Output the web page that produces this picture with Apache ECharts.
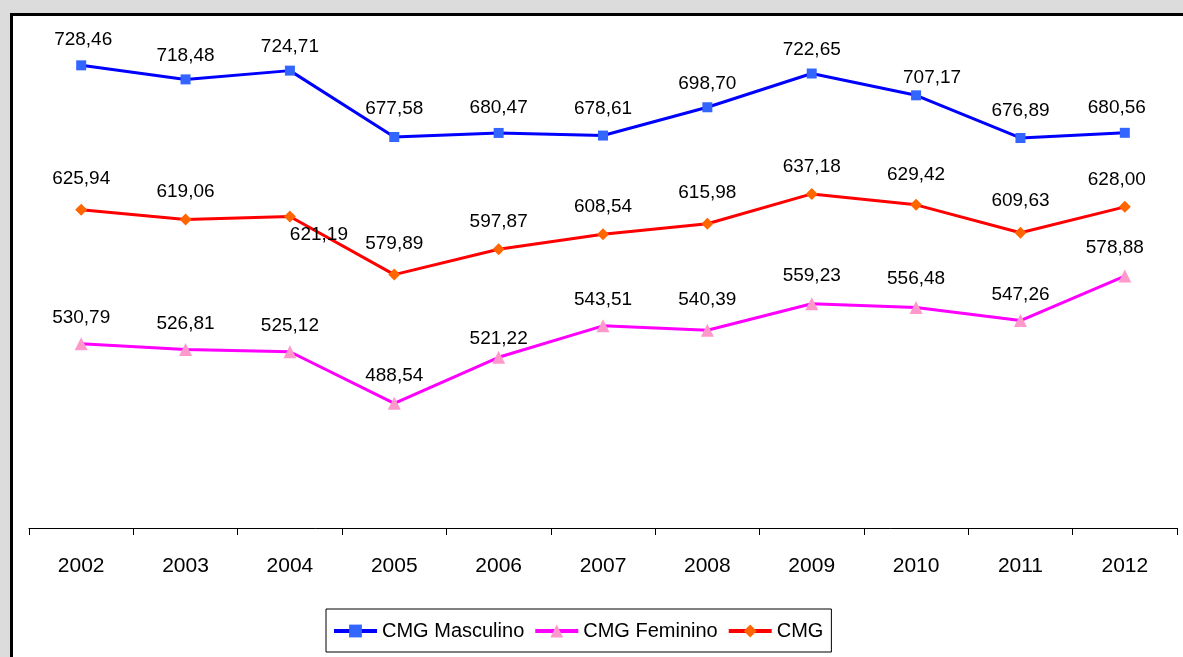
<!DOCTYPE html>
<html>
<head>
<meta charset="utf-8">
<script src="https://cdn.jsdelivr.net/npm/echarts@6/dist/echarts.min.js"></script>
<style>
html,body{margin:0;padding:0;background:#dcdcdc;}
#c{width:1183px;height:657px;}
</style>
</head>
<body>
<div id="c"></div>
<script>
const years = ['2002','2003','2004','2005','2006','2007','2008','2009','2010','2011','2012'];
const masculino = [728.46,718.48,724.71,677.58,680.47,678.61,698.70,722.65,707.17,676.89,680.56];
const feminino = [530.79,526.81,525.12,488.54,521.22,543.51,540.39,559.23,556.48,547.26,578.88];
const cmg = [625.94,619.06,621.19,579.89,597.87,608.54,615.98,637.18,629.42,609.63,628.00];

// label placement tweaks (index -> offset), kept separate from data
const labelTweaks = {
  masc: {0:[2,-2], 3:[0,-5], 4:[0,-2], 5:[0,-3], 8:[16,6], 9:[0,-4], 10:[-8,-2]},
  fem: {3:[0,-2], 4:[0,8], 6:[0,-4], 7:[0,-2], 8:[0,-3], 10:[-10,-2]},
  cmg: {0:[0,-3], 2:[29,46], 3:[0,-3], 6:[0,-4], 8:[0,-3], 9:[0,-4], 10:[-8,0]}
};

function fmt(v){ return v.toFixed(2).replace('.', ','); }

function build(values, tweaks){
  return values.map((v,i)=>{
    const o = {value:v};
    if (tweaks[i]) o.label = {offset: tweaks[i]};
    return o;
  });
}

const FONT = 'Liberation Sans, Arial, sans-serif';
const labelBase = {
  show:true, position:'top', color:'#000',
  fontFamily:FONT, fontSize:19,
  formatter: p => fmt(p.value)
};

const chart = echarts.init(document.getElementById('c'));
chart.setOption({
  backgroundColor:'#dcdcdc',
  animation:false,
  graphic:[{
    type:'rect', z:-10, silent:true,
    shape:{x:11.5, y:14.5, width:1300, height:800},
    style:{fill:'#ffffff', stroke:'#000000', lineWidth:3}
  }],
  grid:{left:29, right:6, top:35, bottom:129, containLabel:false},
  xAxis:{
    type:'category', data:years, boundaryGap:true,
    axisLine:{show:true, lineStyle:{color:'#000', width:1}},
    axisTick:{show:true, inside:false, length:7, lineStyle:{color:'#000'}},
    axisLabel:{color:'#000', fontSize:21, fontFamily:FONT, margin:28}
  },
  yAxis:{
    type:'value', min:400, max:750, interval:50,
    show:false, splitLine:{show:false}
  },
  legend:{
    left:326, top:609,
    orient:'horizontal',
    itemWidth:43, itemHeight:16, itemGap:9,
    padding:[12,8,11,6],
    borderColor:'#000', borderWidth:1, backgroundColor:'#fff',
    textStyle:{color:'#000', fontSize:20, fontFamily:FONT},
    lineStyle:{width:4},
    data:['CMG Masculino','CMG Feminino','CMG']
  },
  series:[
    {
      name:'CMG Masculino', type:'line', data:build(masculino, labelTweaks.masc),
      symbol:'rect', symbolSize:10,
      lineStyle:{color:'#0000ff', width:3},
      itemStyle:{color:'#3366ff'},
      label:Object.assign({}, labelBase, {distance:9})
    },
    {
      name:'CMG Feminino', type:'line', data:build(feminino, labelTweaks.fem),
      symbol:'triangle', symbolSize:13,
      lineStyle:{color:'#ff00ff', width:3},
      itemStyle:{color:'#ff99cc'},
      label:Object.assign({}, labelBase, {distance:10})
    },
    {
      name:'CMG', type:'line', data:build(cmg, labelTweaks.cmg),
      symbol:'diamond', symbolSize:12,
      lineStyle:{color:'#ff0000', width:3},
      itemStyle:{color:'#ff6600'},
      label:Object.assign({}, labelBase, {distance:12})
    }
  ]
});
</script>
</body>
</html>
